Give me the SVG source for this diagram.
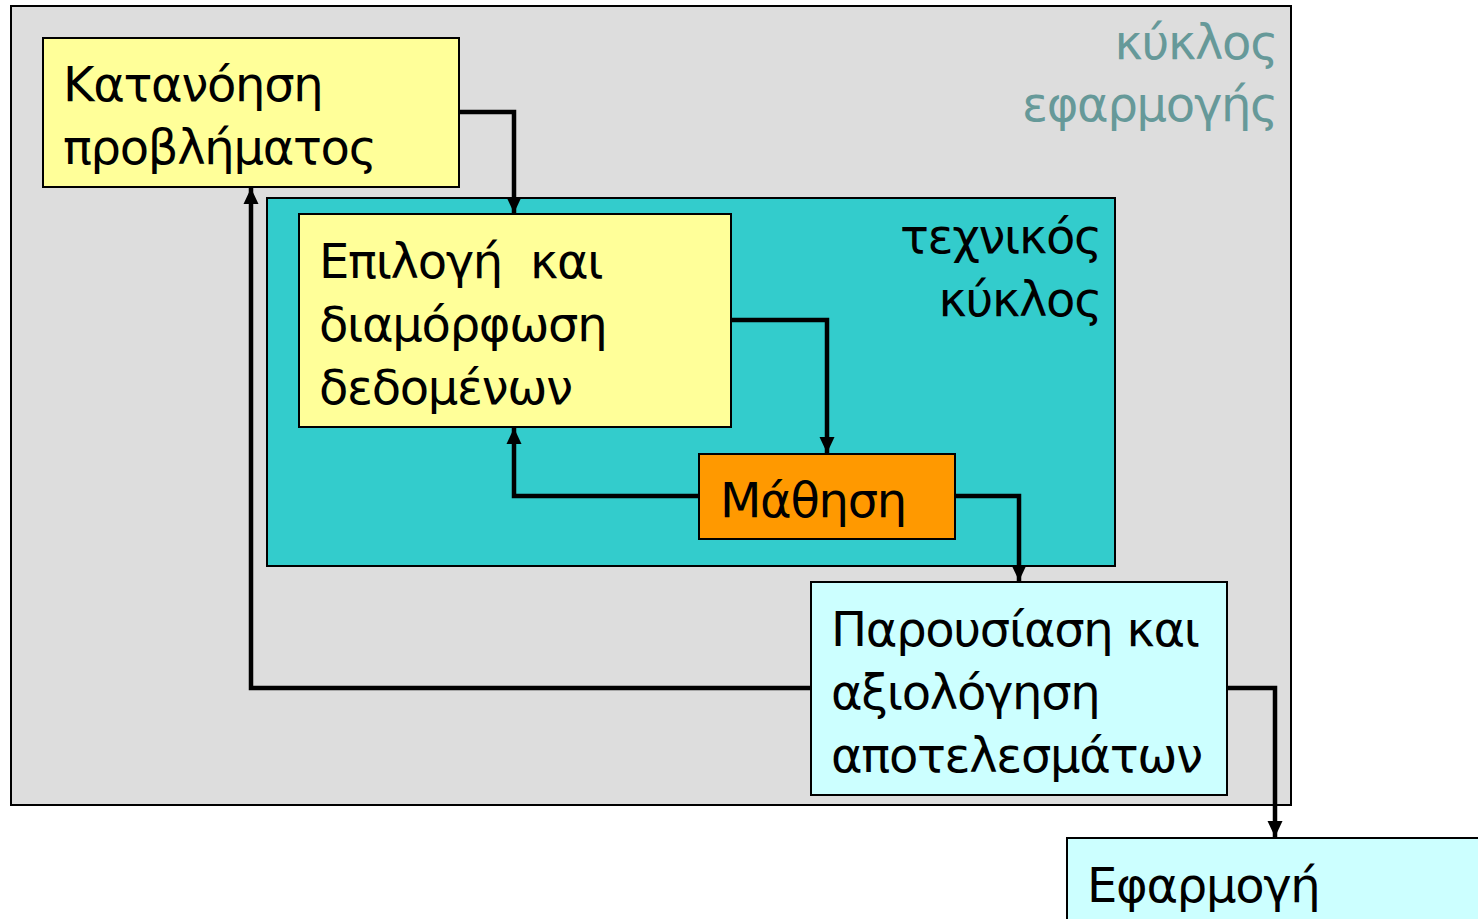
<svg xmlns="http://www.w3.org/2000/svg" width="1478" height="919" viewBox="0 0 1478 919">
<defs>
<marker id="ah" markerUnits="userSpaceOnUse" markerWidth="16" markerHeight="18" viewBox="0 0 16 18" refX="16" refY="9" orient="auto">
<path d="M0,1.5 L16,9 L0,16.5 Z" fill="#000"/>
</marker>
</defs>
<style>
text{font-family:"DejaVu Sans","Noto Sans",sans-serif;font-size:48px;letter-spacing:-1.3px;fill:#000}
.box{stroke:#000;stroke-width:2}
.conn{fill:none;stroke:#000;stroke-width:4.5;stroke-linejoin:miter}
.r{text-anchor:end}
</style>
<rect width="1478" height="919" fill="#fff"/>
<g id="applicationCycle">
<rect class="box" x="11" y="6" width="1280" height="799" fill="#DDDDDD"/>
<text class="r" x="1277" y="59" style="fill:#669999">κύκλος</text>
<text class="r" x="1277" y="121" style="fill:#669999">εφαρμογής</text>
</g>
<g id="technicalCycle">
<rect class="box" x="267" y="198" width="848" height="368" fill="#33CCCC"/>
<text class="r" x="1101" y="253">τεχνικός</text>
<text class="r" x="1101" y="316">κύκλος</text>
</g>
<g id="understanding">
<rect class="box" x="43" y="38" width="416" height="149" fill="#FFFF99"/>
<text x="63" y="101">Κατανόηση</text>
<text x="63" y="164">προβλήματος</text>
</g>
<g id="dataPrep">
<rect class="box" x="299" y="214" width="432" height="213" fill="#FFFF99"/>
<text x="319" y="278" xml:space="preserve">Επιλογή  και</text>
<text x="319" y="341">διαμόρφωση</text>
<text x="319" y="404">δεδομένων</text>
</g>
<g id="learning">
<rect class="box" x="699" y="454" width="256" height="85" fill="#FF9900"/>
<text x="720" y="517">Μάθηση</text>
</g>
<g id="evaluation">
<rect class="box" x="811" y="582" width="416" height="213" fill="#CCFFFF"/>
<text x="831" y="646">Παρουσίαση και</text>
<text x="831" y="709">αξιολόγηση</text>
<text x="831" y="772">αποτελεσμάτων</text>
</g>
<g id="application">
<rect class="box" x="1067" y="838" width="420" height="100" fill="#CCFFFF"/>
<text x="1087" y="902">Εφαρμογή</text>
</g>
<g id="connectors">
<path class="conn" d="M459,112 H514 V213" marker-end="url(#ah)"/>
<path class="conn" d="M731,320 H827 V453" marker-end="url(#ah)"/>
<path class="conn" d="M699,496 H514 V428" marker-end="url(#ah)"/>
<path class="conn" d="M955,496 H1019 V581" marker-end="url(#ah)"/>
<path class="conn" d="M811,688 H251 V188" marker-end="url(#ah)"/>
<path class="conn" d="M1227,688 H1275 V837" marker-end="url(#ah)"/>
</g>
</svg>
